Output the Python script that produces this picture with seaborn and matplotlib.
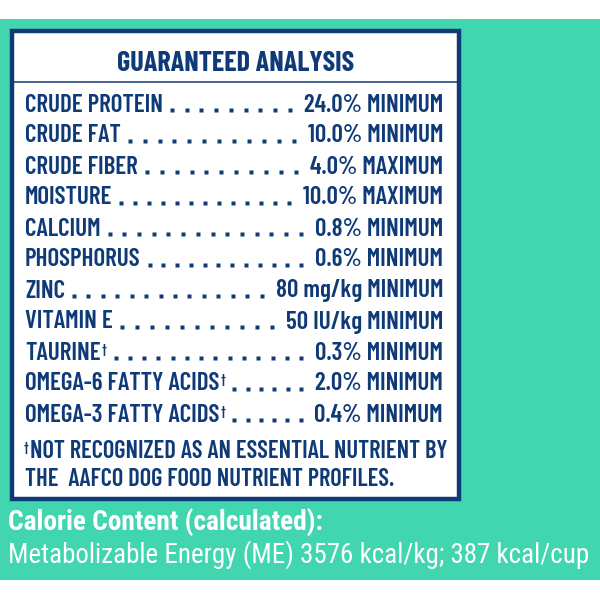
import matplotlib
matplotlib.use('Agg')
import matplotlib.pyplot as plt
import seaborn as sns
from matplotlib.patches import Rectangle

sns.set_theme(style='white')
plt.rcParams['font.family'] = ['DejaVu Sans']
LABEL_FONT = ['Barlow Condensed', 'DejaVu Sans']
CAL_FONT = ['Roboto Condensed', 'Archivo Narrow', 'Barlow Semi Condensed', 'DejaVu Sans']

TEAL = '#41d5b0'
NAVY = '#0f3a78'

# label content
title = 'GUARANTEED ANALYSIS'
nutrients = ['CRUDE PROTEIN', 'CRUDE FAT', 'CRUDE FIBER', 'MOISTURE', 'CALCIUM',
             'PHOSPHORUS', 'ZINC', 'VITAMIN E', 'TAURINE',
             'OMEGA-6 FATTY ACIDS', 'OMEGA-3 FATTY ACIDS']
daggers = [False, False, False, False, False, False, False, False, True, True, True]
amounts = ['24.0%', '10.0%', '4.0%', '10.0%', '0.8%', '0.6%',
           '80 mg/kg', '50 IU/kg', '0.3%', '2.0%', '0.4%']
limits = ['MINIMUM', 'MINIMUM', 'MAXIMUM', 'MAXIMUM', 'MINIMUM', 'MINIMUM',
          'MINIMUM', 'MINIMUM', 'MINIMUM', 'MINIMUM', 'MINIMUM']
footnote = ['NOT RECOGNIZED AS AN ESSENTIAL NUTRIENT BY',
            'THE  AAFCO DOG FOOD NUTRIENT PROFILES.']
calorie_head = 'Calorie Content (calculated):'
calorie_text = 'Metabolizable Energy (ME) 3576 kcal/kg; 387 kcal/cup'

fig = plt.figure(figsize=(6, 6), dpi=100, facecolor='white')
ax = fig.add_axes([0, 0, 1, 1])
ax.set_xlim(0, 600)
ax.set_ylim(600, 0)
ax.axis('off')
renderer = fig.canvas.get_renderer()
inv = ax.transData.inverted()


def extent(t):
    bb = t.get_window_extent(renderer=renderer)
    (x0, _), (x1, _) = inv.transform([[bb.x0, bb.y0], [bb.x1, bb.y1]])
    return x0, x1


def fit(t, target):
    x0, x1 = extent(t)
    t.set_fontsize(t.get_fontsize() * target / (x1 - x0))


def navy_text(x, y, s, fs, ha='left', weight=600):
    return ax.text(x, y, s, ha=ha, va='baseline', color=NAVY, fontsize=fs,
                   fontweight=weight, family=LABEL_FONT)


# background band and box
ax.add_patch(Rectangle((0, 19), 600, 561, facecolor=TEAL, edgecolor='none'))
ax.add_patch(Rectangle((12, 31), 447, 468, facecolor='white', edgecolor=NAVY, lw=3.2))
ax.plot([14, 457], [82, 82], color=NAVY, lw=1.1)

t = navy_text(235.5, 71, title, 16, ha='center', weight='bold')
fit(t, 238)

# rows
probe = navy_text(0, 0, nutrients[9], 15)
fit(probe, 195)
row_fs = probe.get_fontsize()
probe.remove()

for i, (name, dag, amt, lim) in enumerate(zip(nutrients, daggers, amounts, limits)):
    base = 111.5 + i * 31
    lab = navy_text(25, base, name, row_fs)
    val = navy_text(443, base, f'{amt} {lim}', row_fs, ha='right')
    lx1 = extent(lab)[1]
    if dag:
        d = navy_text(lx1 + 1, base - 7, '\u2020', row_fs * 0.55)
        lx1 = extent(d)[1]
    vx0 = extent(val)[0]
    # leader dots, evenly spread between label and value
    start, stop = lx1 + 9, vx0 - 14
    n = max(int(round((stop - start) / 14.4)) + 1, 1)
    step = (stop - start) / (n - 1) if n > 1 else 0
    xs = [start + k * step for k in range(n)]
    ax.plot(xs, [base - 1.5] * len(xs), ls='none', marker='s', ms=2.4,
            mec='none', color=NAVY)

# footnote
navy_text(24, 451, '\u2020', row_fs * 0.55)
f1 = navy_text(30, 458, footnote[0], row_fs)
fit(f1, 417)
navy_text(25, 486, footnote[1], f1.get_fontsize())

# calorie content
c1 = ax.text(8, 531, calorie_head, ha='left', va='baseline', color='white',
             fontsize=17, fontweight='bold', family=CAL_FONT)
fit(c1, 316)
c2 = ax.text(8, 563, calorie_text, ha='left', va='baseline', color='white',
             fontsize=17, fontweight='normal', family=CAL_FONT)
fit(c2, 580)

fig.savefig('out.png', dpi=100, facecolor='white')
